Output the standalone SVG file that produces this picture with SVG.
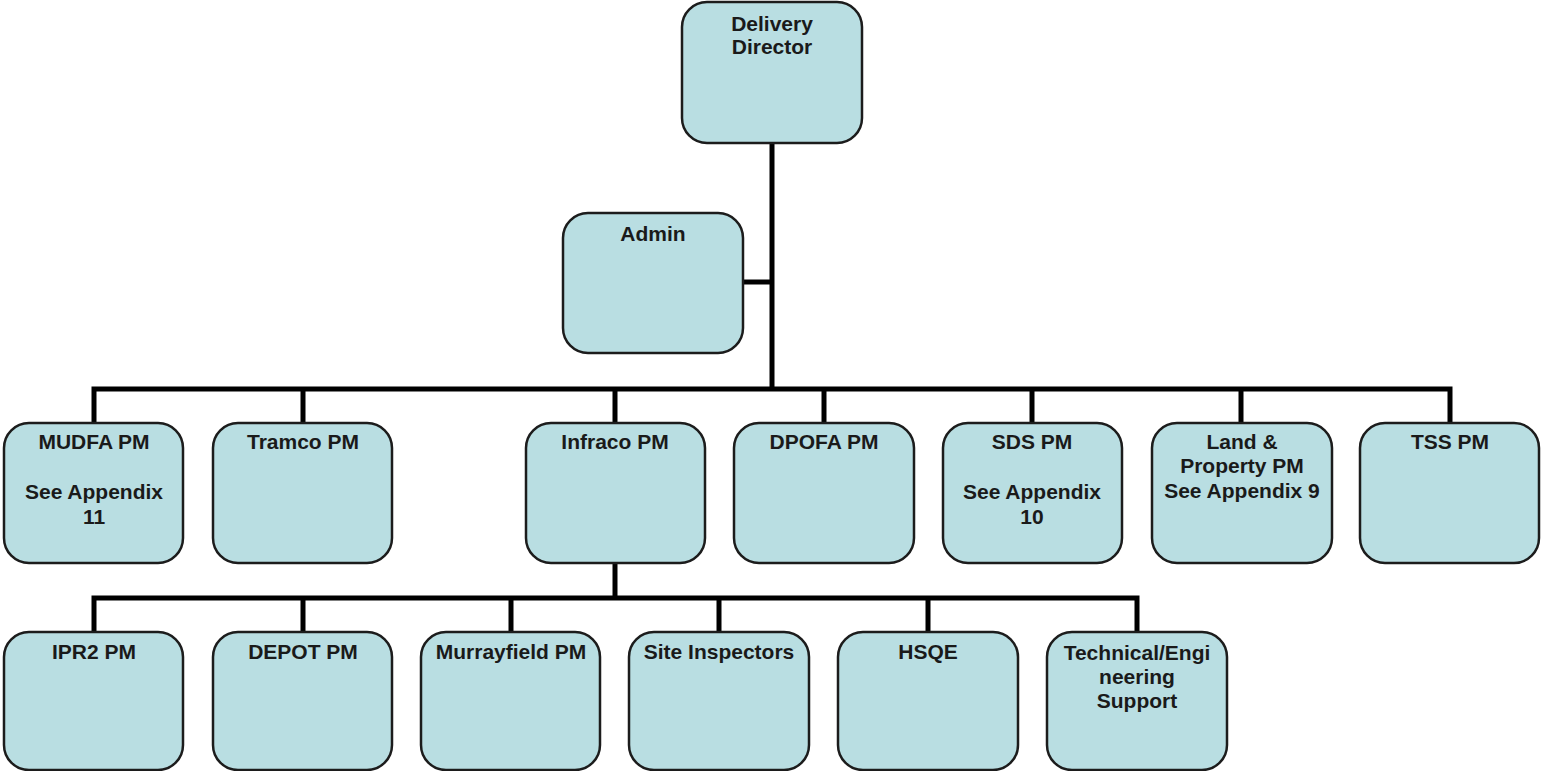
<svg xmlns="http://www.w3.org/2000/svg" width="1541" height="771" viewBox="0 0 1541 771">
  <style>
    .box { fill: #b9dee2; stroke: #1c1c1c; stroke-width: 2.5; }
    .lbl { font-family: "Liberation Sans", Arial, sans-serif; font-weight: bold; font-size: 21px; fill: #1a1a1a; text-anchor: middle; }
    .wire { fill: none; stroke: #000; stroke-width: 5; stroke-linejoin: miter; stroke-linecap: butt; }
  </style>
  <rect width="1541" height="771" fill="#ffffff"/>

  <!-- reporting lines -->
  <g id="connectors">
    <path class="wire" d="M772,143 V389"/>
    <path class="wire" d="M743,282 H772"/>
    <path class="wire" d="M94,423 V389 H1450 V423"/>
    <path class="wire" d="M303,389 V423 M615,389 V423 M824,389 V423 M1032,389 V423 M1241,389 V423"/>
    <path class="wire" d="M615,563 V598"/>
    <path class="wire" d="M94,632 V598 H1137 V632"/>
    <path class="wire" d="M303,598 V632 M511,598 V632 M719,598 V632 M928,598 V632"/>
  </g>

  <g id="delivery-director">
    <rect class="box" x="682" y="2" width="180" height="141" rx="25"/>
    <text class="lbl" x="772" y="31">Delivery</text>
    <text class="lbl" x="772" y="54">Director</text>
  </g>

  <g id="admin">
    <rect class="box" x="563" y="213" width="180" height="140" rx="25"/>
    <text class="lbl" x="653" y="241">Admin</text>
  </g>

  <g id="mudfa-pm">
    <rect class="box" x="4" y="423" width="179" height="140" rx="25"/>
    <text class="lbl" x="94" y="449">MUDFA PM</text>
    <text class="lbl" x="94" y="499">See Appendix</text>
    <text class="lbl" x="94" y="524">11</text>
  </g>

  <g id="tramco-pm">
    <rect class="box" x="213" y="423" width="179" height="140" rx="25"/>
    <text class="lbl" x="303" y="449">Tramco PM</text>
  </g>

  <g id="infraco-pm">
    <rect class="box" x="526" y="423" width="179" height="140" rx="25"/>
    <text class="lbl" x="615" y="449">Infraco PM</text>
  </g>

  <g id="dpofa-pm">
    <rect class="box" x="734" y="423" width="180" height="140" rx="25"/>
    <text class="lbl" x="824" y="449">DPOFA PM</text>
  </g>

  <g id="sds-pm">
    <rect class="box" x="943" y="423" width="179" height="140" rx="25"/>
    <text class="lbl" x="1032" y="449">SDS PM</text>
    <text class="lbl" x="1032" y="499">See Appendix</text>
    <text class="lbl" x="1032" y="524">10</text>
  </g>

  <g id="land-property-pm">
    <rect class="box" x="1152" y="423" width="180" height="140" rx="25"/>
    <text class="lbl" x="1242" y="449">Land &amp;</text>
    <text class="lbl" x="1242" y="473">Property PM</text>
    <text class="lbl" x="1242" y="498">See Appendix 9</text>
  </g>

  <g id="tss-pm">
    <rect class="box" x="1360" y="423" width="179" height="140" rx="25"/>
    <text class="lbl" x="1450" y="449">TSS PM</text>
  </g>

  <g id="ipr2-pm">
    <rect class="box" x="4" y="632" width="179" height="138" rx="25"/>
    <text class="lbl" x="94" y="659">IPR2 PM</text>
  </g>

  <g id="depot-pm">
    <rect class="box" x="213" y="632" width="179" height="138" rx="25"/>
    <text class="lbl" x="303" y="659">DEPOT PM</text>
  </g>

  <g id="murrayfield-pm">
    <rect class="box" x="421" y="632" width="179" height="138" rx="25"/>
    <text class="lbl" x="511" y="659">Murrayfield PM</text>
  </g>

  <g id="site-inspectors">
    <rect class="box" x="629" y="632" width="180" height="138" rx="25"/>
    <text class="lbl" x="719" y="659">Site Inspectors</text>
  </g>

  <g id="hsqe">
    <rect class="box" x="838" y="632" width="180" height="138" rx="25"/>
    <text class="lbl" x="928" y="659">HSQE</text>
  </g>

  <g id="technical-engineering-support">
    <rect class="box" x="1047" y="632" width="180" height="138" rx="25"/>
    <text class="lbl" x="1137" y="660">Technical/Engi</text>
    <text class="lbl" x="1137" y="684">neering</text>
    <text class="lbl" x="1137" y="708">Support</text>
  </g>
</svg>
